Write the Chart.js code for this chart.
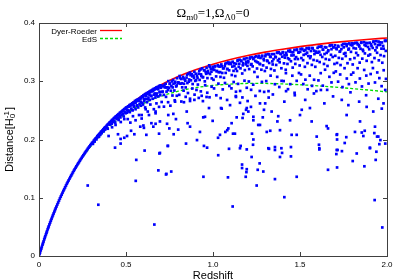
<!DOCTYPE html>
<html lang="en">
<head>
<meta charset="UTF-8">
<title>Dyer-Roeder distance</title>
<script src="https://cdn.jsdelivr.net/npm/chart.js"></script>
<style>
  body { margin: 0; background: #fff; }
</style>
</head>
<body>
<canvas id="myChart" width="400" height="280"></canvas>
<script>
// redshift grid and the two reference distance curves
const curveZ = [0, 0.05, 0.1, 0.15, 0.2, 0.25, 0.3, 0.35, 0.4, 0.5, 0.6, 0.7, 0.8, 0.9, 1.0, 1.1, 1.2, 1.3, 1.4, 1.5, 1.6, 1.7, 1.8, 1.9, 2.0];
const dyerRoeder = [0, 0.0459, 0.0848, 0.118, 0.1465, 0.171, 0.1925, 0.2111, 0.2275, 0.2548, 0.2764, 0.2936, 0.308, 0.3196, 0.3293, 0.3374, 0.3442, 0.35, 0.355, 0.3595, 0.3633, 0.3667, 0.3696, 0.3722, 0.3743];
const edS = [0, 0.0459, 0.0845, 0.1174, 0.1452, 0.169, 0.1891, 0.2064, 0.2211, 0.2447, 0.2618, 0.2741, 0.2829, 0.2889, 0.2929, 0.2951, 0.2962, 0.2962, 0.2954, 0.294, 0.2922, 0.2899, 0.2874, 0.2847, 0.2817];

// ray-shooting distances [z, D], low redshift part hugging the curve
const edgePoints = [
  [0.003,0.003],[0.006,0.006],[0.01,0.0098],[0.013,0.0127],[0.016,0.0156],[0.02,0.0193],[0.023,0.0221],[0.026,0.0249],
  [0.03,0.0285],[0.033,0.0313],[0.036,0.034],[0.04,0.0373],[0.043,0.0399],[0.046,0.0425],[0.05,0.0459],[0.053,0.0484],
  [0.056,0.0509],[0.06,0.0542],[0.064,0.0574],[0.068,0.0606],[0.072,0.0638],[0.076,0.067],[0.08,0.07],[0.084,0.073],
  [0.088,0.076],[0.092,0.079],[0.096,0.0819],[0.1,0.0848],[0.105,0.0883],[0.11,0.0917],[0.115,0.0952],[0.12,0.0987],
  [0.125,0.102],[0.13,0.1052],[0.135,0.1085],[0.14,0.1118],[0.145,0.1148],[0.15,0.1178],[0.155,0.1209],[0.16,0.124],
  [0.165,0.1268],[0.17,0.1297],[0.175,0.1326],[0.18,0.1355],[0.185,0.1381],[0.19,0.1408],[0.195,0.1436],[0.2,0.1463],
  [0.205,0.1489],[0.21,0.1514],[0.215,0.154],[0.22,0.1565],[0.225,0.1589],[0.23,0.1613],[0.235,0.1637],[0.24,0.1662],
  [0.245,0.1684],[0.25,0.1708],[0.255,0.173],[0.26,0.1753],[0.265,0.1775],[0.27,0.1796],[0.275,0.1818],[0.28,0.184],
  [0.285,0.186],[0.29,0.1881],[0.295,0.1902],[0.3,0.1922],
  [0.305,0.1942],[0.31,0.1955],[0.315,0.198],[0.32,0.1998],[0.325,0.2017],[0.33,0.203],[0.335,0.2056],[0.34,0.2072],
  [0.345,0.209],[0.35,0.2105],[0.355,0.2128],[0.36,0.214],[0.365,0.2158],[0.37,0.2175],[0.375,0.2195],[0.38,0.2208],
  [0.385,0.222],[0.39,0.224],[0.395,0.2258],[0.4,0.227],
  [0.31,0.1925],[0.33,0.2002],[0.34,0.2041],[0.352,0.208],[0.36,0.2108],[0.372,0.214],[0.38,0.217],[0.39,0.22],
  [0.395,0.2185],[0.32,0.1965],[0.345,0.205],
  [0.405,0.229],[0.41,0.23],[0.415,0.2318],[0.42,0.2335],[0.425,0.2342],[0.43,0.2365],[0.435,0.2375],[0.44,0.2392],
  [0.445,0.24],[0.45,0.2415],[0.455,0.243],[0.46,0.244],[0.465,0.2458],[0.47,0.2468],[0.475,0.248],[0.48,0.2495],
  [0.485,0.2505],[0.49,0.252],[0.495,0.253],[0.5,0.2545],
  [0.408,0.2255],[0.418,0.227],[0.423,0.23],[0.432,0.232],[0.438,0.229],[0.446,0.235],[0.452,0.2375],[0.458,0.2335],
  [0.463,0.24],[0.468,0.238],[0.474,0.2425],[0.482,0.244],[0.487,0.2395],[0.492,0.247],[0.497,0.245],[0.42,0.221],
  [0.44,0.225],[0.47,0.23],[0.49,0.235]
];

// dense band below the empty-beam curve
const bandPoints = [
  [0.503,0.255],[0.508,0.2555],[0.512,0.257],[0.516,0.2565],[0.52,0.259],[0.524,0.2585],[0.528,0.2605],[0.532,0.2598],
  [0.536,0.2622],[0.54,0.2615],[0.544,0.2638],[0.548,0.263],[0.552,0.2662],[0.556,0.265],[0.56,0.2675],[0.564,0.266],
  [0.568,0.269],[0.572,0.2682],[0.576,0.27],[0.58,0.2695],[0.584,0.2718],[0.588,0.2705],[0.592,0.274],[0.596,0.273],[0.6,0.2755],
  [0.505,0.246],[0.514,0.25],[0.522,0.247],[0.53,0.253],[0.538,0.25],[0.546,0.256],[0.555,0.252],[0.562,0.258],
  [0.57,0.255],[0.578,0.261],[0.586,0.258],[0.594,0.263],[0.598,0.26],
  [0.51,0.235],[0.525,0.229],[0.54,0.24],[0.555,0.233],[0.575,0.242],[0.59,0.236],
  [0.603,0.276],[0.607,0.2768],[0.611,0.278],[0.615,0.277],[0.619,0.2795],[0.623,0.2785],[0.627,0.2808],[0.631,0.28],
  [0.635,0.2822],[0.639,0.2812],[0.643,0.2838],[0.647,0.2825],[0.651,0.2852],[0.655,0.2842],[0.659,0.2868],[0.663,0.2855],
  [0.667,0.288],[0.671,0.287],[0.675,0.2895],[0.679,0.2885],[0.683,0.2905],[0.687,0.2895],[0.691,0.292],[0.695,0.291],[0.699,0.293],
  [0.605,0.266],[0.613,0.27],[0.621,0.264],[0.629,0.272],[0.637,0.268],[0.645,0.275],[0.653,0.27],[0.661,0.277],
  [0.669,0.272],[0.677,0.279],[0.685,0.274],[0.693,0.281],[0.697,0.276],
  [0.61,0.255],[0.625,0.248],[0.64,0.26],[0.66,0.252],[0.675,0.262],[0.69,0.256],
  [0.703,0.293],[0.708,0.2816],[0.713,0.2912],[0.718,0.2766],[0.723,0.2894],[0.728,0.2957],[0.733,0.2822],[0.738,0.2895],
  [0.743,0.3002],[0.748,0.2889],[0.753,0.2962],[0.758,0.2837],[0.763,0.2997],[0.768,0.2894],[0.773,0.2956],[0.778,0.2841],
  [0.783,0.2991],[0.788,0.291],[0.793,0.3052],[0.798,0.2967],
  [0.705,0.2644],[0.718,0.2564],[0.73,0.2732],[0.742,0.264],[0.755,0.258],[0.767,0.2755],[0.78,0.2673],[0.792,0.2751],
  [0.803,0.2971],[0.808,0.309],[0.813,0.2958],[0.818,0.3039],[0.823,0.2895],[0.828,0.3076],[0.833,0.2957],[0.838,0.3026],
  [0.843,0.2894],[0.848,0.3063],[0.853,0.2969],[0.858,0.313],[0.863,0.303],[0.868,0.3148],[0.873,0.3016],[0.878,0.3122],
  [0.883,0.2952],[0.888,0.3095],[0.893,0.3163],[0.898,0.3006],
  [0.806,0.2767],[0.818,0.2652],[0.831,0.2838],[0.843,0.2732],[0.856,0.2798],[0.868,0.2661],[0.881,0.2875],[0.894,0.277],
  [0.903,0.3017],[0.908,0.3092],[0.913,0.2943],[0.918,0.313],[0.923,0.3023],[0.928,0.3202],[0.933,0.309],[0.938,0.3221],
  [0.943,0.3072],[0.948,0.3189],[0.953,0.2998],[0.958,0.3157],[0.963,0.3231],[0.968,0.3054],[0.973,0.3142],[0.978,0.3273],
  [0.983,0.3124],[0.988,0.3212],[0.993,0.3049],[0.998,0.3249],
  [0.905,0.2851],[0.918,0.2714],[0.93,0.2826],[0.942,0.2659],[0.955,0.2932],[0.967,0.2803],[0.98,0.2725],[0.992,0.2906],
  [1.003,0.3025],[1.008,0.3194],[1.013,0.3262],[1.018,0.3083],[1.023,0.3177],[1.028,0.3274],[1.033,0.3155],[1.038,0.325],
  [1.043,0.3074],[1.048,0.3288],[1.053,0.3142],[1.058,0.3221],[1.063,0.306],[1.068,0.3259],[1.073,0.3143],[1.078,0.3315],
  [1.083,0.3211],[1.088,0.3323],[1.093,0.3188],[1.098,0.3312],
  [1.006,0.2877],[1.019,0.2759],[1.031,0.2959],[1.044,0.271],[1.056,0.286],[1.069,0.297],[1.081,0.2679],[1.094,0.2919],
  [1.103,0.3296],[1.108,0.3107],[1.113,0.3335],[1.118,0.3178],[1.123,0.3262],[1.128,0.3089],[1.133,0.3301],[1.138,0.3176],
  [1.143,0.3362],[1.148,0.3248],[1.153,0.337],[1.158,0.3222],[1.163,0.3354],[1.168,0.3133],[1.173,0.3312],[1.178,0.3386],
  [1.183,0.3191],[1.188,0.329],[1.193,0.3395],[1.198,0.3265],
  [1.106,0.2878],[1.119,0.2987],[1.131,0.2746],[1.144,0.2955],[1.156,0.2833],[1.169,0.2722],[1.181,0.301],[1.194,0.2888],
  [1.203,0.3342],[1.208,0.3209],[1.213,0.3408],[1.218,0.3283],[1.223,0.3414],[1.228,0.3255],[1.233,0.3394],[1.238,0.3159],
  [1.243,0.3349],[1.248,0.3428],[1.253,0.3219],[1.258,0.3323],[1.263,0.3437],[1.268,0.3298],[1.273,0.34],[1.278,0.3198],
  [1.283,0.3439],[1.288,0.3272],[1.293,0.336],[1.298,0.3176],
  [1.206,0.2996],[1.219,0.2853],[1.231,0.2941],[1.244,0.2749],[1.256,0.3075],[1.269,0.2833],[1.281,0.2989],[1.294,0.2817],
  [1.303,0.3459],[1.308,0.3234],[1.313,0.3345],[1.318,0.3467],[1.323,0.3314],[1.328,0.3424],[1.333,0.3211],[1.338,0.3465],
  [1.343,0.3288],[1.348,0.3381],[1.353,0.3185],[1.358,0.3422],[1.363,0.328],[1.368,0.3493],[1.373,0.3357],[1.378,0.3497],
  [1.383,0.3326],[1.388,0.3472],[1.393,0.3223],[1.398,0.3421],
  [1.306,0.3003],[1.319,0.283],[1.331,0.3096],[1.344,0.2773],[1.356,0.2949],[1.369,0.3075],[1.381,0.2901],[1.394,0.3007],
  [1.403,0.3494],[1.408,0.3307],[1.413,0.3404],[1.418,0.3197],[1.423,0.3447],[1.428,0.3297],[1.433,0.3523],[1.438,0.3377],
  [1.443,0.3528],[1.448,0.3344],[1.453,0.3498],[1.458,0.3234],[1.463,0.3446],[1.468,0.3539],[1.473,0.3298],[1.478,0.3414],
  [1.483,0.3545],[1.488,0.3381],[1.493,0.3497],[1.498,0.3271],
  [1.406,0.3003],[1.419,0.3139],[1.431,0.2864],[1.444,0.295],[1.456,0.3095],[1.469,0.2801],[1.481,0.3007],[1.494,0.3142],
  [1.503,0.3554],[1.508,0.3398],[1.513,0.3558],[1.518,0.3362],[1.523,0.3524],[1.528,0.3248],[1.533,0.3468],[1.538,0.3568],
  [1.543,0.3311],[1.548,0.3433],[1.553,0.3573],[1.558,0.3397],[1.563,0.3519],[1.568,0.3281],[1.573,0.3563],[1.578,0.3365],
  [1.583,0.3467],[1.588,0.3248],[1.593,0.351],[1.598,0.3352],
  [1.506,0.3117],[1.519,0.2952],[1.531,0.3027],[1.544,0.2862],[1.556,0.3096],[1.569,0.2921],[1.581,0.3026],[1.594,0.2831],
  [1.603,0.349],[1.608,0.3594],[1.613,0.3329],[1.618,0.3454],[1.623,0.3599],[1.628,0.3417],[1.633,0.3541],[1.638,0.3297],
  [1.643,0.3586],[1.648,0.3382],[1.653,0.3487],[1.658,0.3263],[1.663,0.3531],[1.668,0.3369],[1.673,0.3616],[1.678,0.3454],
  [1.683,0.3619],[1.688,0.3417],[1.693,0.3582],[1.698,0.3297],
  [1.606,0.3015],[1.619,0.3139],[1.631,0.2924],[1.644,0.3198],[1.656,0.2852],[1.669,0.3076],[1.681,0.298],[1.694,0.3145],
  [1.703,0.3437],[1.708,0.3564],[1.713,0.3314],[1.718,0.3609],[1.723,0.3401],[1.728,0.3507],[1.733,0.3278],[1.738,0.3552],
  [1.743,0.3386],[1.748,0.3639],[1.753,0.3473],[1.758,0.3642],[1.763,0.3433],[1.768,0.3603],[1.773,0.331],[1.778,0.3543],
  [1.783,0.3649],[1.788,0.3377],[1.793,0.3505],[1.798,0.3653],
  [1.706,0.3169],[1.719,0.2993],[1.731,0.3116],[1.744,0.29],[1.756,0.3224],[1.769,0.3047],[1.781,0.2951],[1.794,0.3114],
  [1.803,0.3288],[1.808,0.3569],[1.813,0.3398],[1.818,0.3659],[1.823,0.3487],[1.828,0.3661],[1.833,0.3446],[1.838,0.362],
  [1.843,0.332],[1.848,0.3557],[1.853,0.3667],[1.858,0.3388],[1.863,0.3518],[1.868,0.3671],[1.873,0.3478],[1.878,0.3608],
  [1.883,0.3351],[1.888,0.3654],[1.893,0.344],[1.898,0.3549],
  [1.806,0.3148],[1.819,0.2981],[1.831,0.3224],[1.844,0.3047],[1.856,0.2911],[1.869,0.3194],[1.881,0.3097],[1.894,0.296],
  [1.903,0.3459],[1.908,0.3636],[1.913,0.3329],[1.918,0.3572],[1.923,0.3683],[1.928,0.3398],[1.933,0.3531],[1.938,0.3688],
  [1.943,0.3489],[1.948,0.3622],[1.953,0.3359],[1.958,0.3668],[1.963,0.3449],[1.968,0.356],[1.973,0.3318],[1.978,0.3606],
  [1.983,0.3431],[1.988,0.3698],[1.993,0.3521],[1.998,0.37],
  [1.906,0.3124],[1.919,0.3226],[1.931,0.2979],[1.944,0.3151],[1.956,0.3054],[1.969,0.2916],[1.981,0.3189],[1.994,0.3041]
];

// extra rays crowding just under the curve
const topPoints = [
  [0.505,0.25],[0.515,0.2483],[0.525,0.2576],[0.535,0.2509],[0.545,0.2582],[0.555,0.2633],[0.565,0.2585],[0.575,0.2667],[0.585,0.2648],[0.595,0.274],
  [0.605,0.2693],[0.615,0.2752],[0.625,0.269],[0.635,0.2769],[0.645,0.2747],[0.655,0.2834],[0.665,0.279],[0.675,0.2756],[0.685,0.2862],[0.695,0.2818],
  [0.701,0.2888],[0.711,0.2823],[0.721,0.2938],[0.731,0.2894],[0.741,0.2849],[0.751,0.2954],[0.761,0.2918],[0.771,0.3021],[0.781,0.2975],[0.791,0.2928],
  [0.801,0.2982],[0.811,0.3054],[0.821,0.2966],[0.831,0.3048],[0.841,0.301],[0.851,0.3111],[0.861,0.2993],[0.871,0.3104],[0.881,0.3085],[0.891,0.3056],
  [0.901,0.3128],[0.911,0.3058],[0.921,0.3178],[0.931,0.3118],[0.941,0.3068],[0.951,0.3189],[0.961,0.3128],[0.971,0.3177],[0.981,0.3246],[0.991,0.3165],
  [1.001,0.3204],[1.011,0.3253],[1.021,0.3171],[1.031,0.3259],[1.041,0.3157],[1.051,0.3256],[1.061,0.3223],[1.071,0.3301],[1.081,0.3209],[1.091,0.3297],
  [1.101,0.3315],[1.111,0.3252],[1.121,0.3309],[1.131,0.3215],[1.141,0.3352],[1.151,0.33],[1.161,0.3346],[1.171,0.3273],[1.181,0.3379],[1.191,0.3336],
  [1.201,0.3323],[1.211,0.3389],[1.221,0.3295],[1.231,0.3381],[1.241,0.3417],[1.251,0.3333],[1.261,0.3408],[1.271,0.3294],[1.281,0.3429],[1.291,0.3385],
  [1.301,0.343],[1.311,0.3356],[1.321,0.3461],[1.331,0.3416],[1.341,0.3341],[1.351,0.3466],[1.361,0.3411],[1.371,0.3486],[1.381,0.3381],[1.391,0.3466],
  [1.401,0.35],[1.411,0.3445],[1.421,0.349],[1.431,0.3394],[1.441,0.3509],[1.451,0.3443],[1.461,0.3498],[1.471,0.3382],[1.481,0.3536],[1.491,0.3491],
  [1.501,0.3505],[1.511,0.3549],[1.521,0.3453],[1.531,0.3537],[1.541,0.3491],[1.551,0.3554],[1.561,0.3428],[1.571,0.3572],[1.581,0.3526],[1.591,0.349],
  [1.601,0.3573],[1.611,0.3507],[1.621,0.359],[1.631,0.3544],[1.641,0.3467],[1.651,0.358],[1.661,0.3514],[1.671,0.3607],[1.681,0.355],[1.691,0.3584],
  [1.701,0.3617],[1.711,0.355],[1.721,0.3593],[1.731,0.3516],[1.741,0.3619],[1.751,0.3582],[1.761,0.3485],[1.771,0.3638],[1.781,0.356],[1.791,0.3623],
  [1.801,0.3616],[1.811,0.3649],[1.821,0.3562],[1.831,0.3634],[1.841,0.3597],[1.851,0.3659],[1.861,0.3542],[1.871,0.3624],[1.881,0.3657],[1.891,0.3589],
  [1.901,0.3662],[1.911,0.3604],[1.921,0.3676],[1.931,0.3638],[1.941,0.358],[1.951,0.3682],[1.961,0.3624],[1.971,0.3666],[1.981,0.3558],[1.991,0.369]
];

// strongly de-magnified rays, scattered well below the band
const sparsePoints = [
  [0.28,0.121],[0.341,0.088],[0.663,0.054],[0.556,0.129],[0.559,0.165],[0.607,0.181],[0.686,0.147],[0.73,0.14],
  [0.692,0.176],[0.437,0.186],[0.469,0.193],[0.469,0.201],[0.49,0.203],[0.454,0.209],[0.506,0.206],[0.548,0.209],
  [0.617,0.208],[0.69,0.21],[0.741,0.189],[0.529,0.215],[0.582,0.222],[0.603,0.22],[0.646,0.228],[0.67,0.227],
  [0.736,0.227],[0.743,0.242],[0.59,0.242],[0.632,0.242],[0.67,0.245],[0.4,0.206],
  [0.774,0.209],[0.695,0.177],[0.74,0.189],[0.845,0.193],[0.908,0.199],[0.948,0.189],[0.966,0.186],[1.029,0.203],
  [1.071,0.213],[1.115,0.21],[1.126,0.21],[1.092,0.184],[1.159,0.189],[1.194,0.183],[1.224,0.21],[1.232,0.2],
  [1.23,0.191],[1.322,0.184],[0.732,0.141],[0.76,0.145],[0.945,0.136],[1.086,0.135],[1.167,0.157],[1.167,0.151],
  [1.194,0.149],[1.192,0.144],[1.188,0.136],[1.268,0.159],[1.257,0.148],[1.289,0.145],[1.251,0.121],[1.113,0.085],
  [1.329,0.215],[1.481,0.208],[1.713,0.209],[1.766,0.204],[1.713,0.2],[1.757,0.194],[1.855,0.212],[1.872,0.215],
  [1.864,0.206],[1.927,0.211],[1.943,0.205],[1.95,0.205],[1.962,0.199],[1.956,0.192],[1.356,0.187],[1.393,0.185],
  [1.397,0.177],[1.448,0.187],[1.448,0.171],[1.356,0.132],[1.481,0.136],[1.41,0.101],[1.609,0.191],[1.611,0.183],
  [1.716,0.182],[1.741,0.18],[1.709,0.175],[1.661,0.148],[1.713,0.152],[1.803,0.163],[1.87,0.154],[1.902,0.186],
  [1.939,0.179],[1.935,0.165],[1.929,0.096],[1.973,0.049],
  [0.613,0.252],[0.67,0.248],[0.782,0.265],[0.833,0.264],[0.868,0.27],[0.893,0.268],[0.935,0.275],[0.977,0.254],
  [1.046,0.254],[1.098,0.259],[1.155,0.263],[1.199,0.266],[1.218,0.256],[1.27,0.262],[1.293,0.251],[0.772,0.244],
  [0.787,0.235],[0.849,0.248],[0.854,0.228],[0.944,0.238],[0.998,0.232],[1.082,0.216],[1.107,0.228],[1.136,0.238],
  [1.174,0.244],[1.19,0.251],[1.232,0.239],[0.749,0.219],[0.695,0.231],[0.657,0.222],[0.6,0.224],[0.8,0.217],
  [0.868,0.222],[0.925,0.213],[1.04,0.208],[1.26,0.225],[1.309,0.213],
  [0.963,0.273],[1.05,0.253],[1.132,0.273],[1.132,0.282],[1.17,0.237],[1.194,0.254],[1.203,0.248],[1.286,0.238],
  [1.337,0.248],[1.375,0.24],[1.37,0.231],[1.443,0.233],[1.51,0.251],[1.5,0.242],[1.557,0.254],[1.567,0.231],
  [1.653,0.223],[1.661,0.219],[1.711,0.208],[1.768,0.242],[1.778,0.259],[1.845,0.231],[1.883,0.256],[1.921,0.248],
  [1.931,0.222],[1.97,0.253],[1.99,0.285],[0.954,0.239],[1.088,0.219],[1.232,0.233],[1.27,0.225],[1.385,0.216],
  [1.452,0.208],[1.596,0.205],[1.816,0.213],[1.03,0.173],[1.155,0.185],[1.222,0.17],[1.318,0.185],[1.356,0.182],
  [1.385,0.17],[1.611,0.185],[1.711,0.182],[1.826,0.176],[1.902,0.185],[1.99,0.193],
  [1.32,0.272],[1.41,0.265],[1.47,0.276],[1.53,0.268],[1.58,0.279],[1.64,0.262],[1.69,0.274],[1.74,0.268],
  [1.79,0.281],[1.84,0.265],[1.88,0.276],[1.95,0.27],[1.98,0.262],[1.62,0.285],[1.42,0.283],[1.3,0.262]
];

const sansFont = '"Liberation Sans", Arial, sans-serif';
const serifFont = '"Liberation Serif", "Times New Roman", serif';

// frame, inward ticks, title, axis labels and the key, gnuplot style
const decor = {
  id: 'decor',
  afterDraw(chart) {
    const { ctx, chartArea: a, scales: { x, y } } = chart;
    ctx.save();
    ctx.strokeStyle = '#404040';
    ctx.lineWidth = 1;
    ctx.strokeRect(a.left + 0.5, a.top + 0.5, a.right - a.left, a.bottom - a.top);

    ctx.beginPath();
    x.ticks.forEach(t => {
      const px = Math.round(x.getPixelForValue(t.value)) + 0.5;
      ctx.moveTo(px, a.bottom); ctx.lineTo(px, a.bottom - 4);
      ctx.moveTo(px, a.top); ctx.lineTo(px, a.top + 4);
    });
    y.ticks.forEach(t => {
      const py = Math.round(y.getPixelForValue(t.value)) + 0.5;
      ctx.moveTo(a.left, py); ctx.lineTo(a.left + 4, py);
      ctx.moveTo(a.right, py); ctx.lineTo(a.right - 4, py);
    });
    ctx.stroke();

    ctx.fillStyle = '#000';
    ctx.textBaseline = 'alphabetic';

    // title with subscripts
    const parts = [['\u03A9', 13, 0], ['m0', 9, 3], ['=1,\u03A9', 13, 0], ['\u039B0', 9, 3], ['=0', 13, 0]];
    let total = 0;
    parts.forEach(p => { ctx.font = p[1] + 'px ' + serifFont; total += ctx.measureText(p[0]).width; });
    let tx = (a.left + a.right) / 2 - total / 2;
    ctx.textAlign = 'left';
    parts.forEach(p => {
      ctx.font = p[1] + 'px ' + serifFont;
      ctx.fillText(p[0], tx, 16.5 + p[2]);
      tx += ctx.measureText(p[0]).width;
    });

    // x axis label
    ctx.font = '11px ' + sansFont;
    ctx.textAlign = 'center';
    ctx.fillText('Redshift', (a.left + a.right) / 2, 279);

    // y axis label, rotated
    ctx.save();
    ctx.translate(13, (a.top + a.bottom) / 2);
    ctx.rotate(-Math.PI / 2);
    ctx.textAlign = 'left';
    ctx.font = '11px ' + sansFont;
    const main = 'Distance[H';
    const wMain = ctx.measureText(main).width;
    ctx.font = '8px ' + sansFont;
    const wSub = Math.max(ctx.measureText('0').width, ctx.measureText('-1').width);
    ctx.font = '11px ' + sansFont;
    const wEnd = ctx.measureText(']').width;
    let lx = -(wMain + wSub + 1 + wEnd) / 2;
    ctx.fillText(main, lx, 0);
    lx += wMain;
    ctx.font = '8px ' + sansFont;
    ctx.fillText('0', lx, 2);
    ctx.fillText('-1', lx, -4.5);
    lx += wSub + 1;
    ctx.font = '11px ' + sansFont;
    ctx.fillText(']', lx, 0);
    ctx.restore();

    // key in the upper left corner
    ctx.font = '8px ' + sansFont;
    ctx.textAlign = 'right';
    const keys = [chart.data.datasets[1], chart.data.datasets[2]];
    keys.forEach((ds, i) => {
      const ky = 30.5 + i * 8;
      ctx.fillText(ds.label, 97, ky + 3);
      ctx.beginPath();
      ctx.strokeStyle = ds.borderColor;
      ctx.lineWidth = 1.3;
      ctx.setLineDash(ds.borderDash || []);
      ctx.moveTo(100, ky);
      ctx.lineTo(122, ky);
      ctx.stroke();
    });
    ctx.restore();
  }
};

const toXY = (zs, ds) => zs.map((z, i) => ({ x: z, y: ds[i] }));
const rays = edgePoints.concat(bandPoints, topPoints, sparsePoints).map(p => ({ x: p[0], y: p[1] }));

new Chart(document.getElementById('myChart'), {
  type: 'scatter',
  data: {
    datasets: [{
      label: 'rays',
      data: rays,
      pointStyle: 'rect',
      pointRadius: 1.9,
      borderWidth: 0,
      backgroundColor: '#0000ff',
      order: 0
    }, {
      label: 'Dyer-Roeder',
      data: toXY(curveZ, dyerRoeder),
      showLine: true,
      pointRadius: 0,
      borderColor: '#ff0000',
      borderWidth: 1.6,
      cubicInterpolationMode: 'monotone',
      order: 2
    }, {
      label: 'EdS',
      data: toXY(curveZ, edS),
      showLine: true,
      pointRadius: 0,
      borderColor: '#00dd00',
      borderWidth: 1.3,
      borderDash: [3, 2],
      cubicInterpolationMode: 'monotone',
      order: 1
    }]
  },
  options: {
    responsive: false,
    animation: false,
    events: [],
    layout: { padding: { left: 0, right: 13, top: 23, bottom: 0 } },
    plugins: { legend: { display: false }, tooltip: { enabled: false } },
    scales: {
      x: {
        type: 'linear',
        min: 0,
        max: 2,
        afterFit: s => { s.height = 24; },
        grid: { display: false, drawTicks: false },
        border: { display: false },
        ticks: { stepSize: 0.5, padding: 4, maxRotation: 0, color: '#000', font: { size: 8, family: sansFont } }
      },
      y: {
        min: 0,
        max: 0.4,
        afterFit: s => { s.width = 39; },
        grid: { display: false, drawTicks: false },
        border: { display: false },
        ticks: { stepSize: 0.1, padding: 4, color: '#000', font: { size: 8, family: sansFont } }
      }
    }
  },
  plugins: [decor]
});
</script>
</body>
</html>
